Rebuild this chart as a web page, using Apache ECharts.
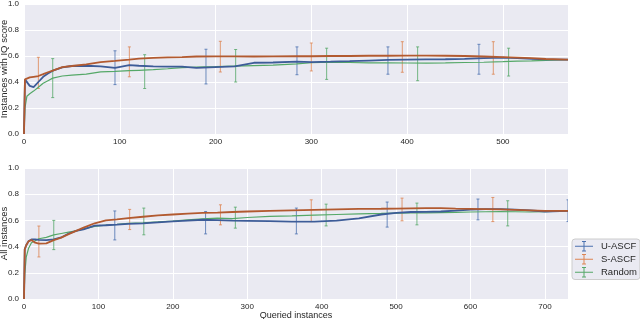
<!DOCTYPE html>
<html><head><meta charset="utf-8">
<script src="https://cdn.jsdelivr.net/npm/echarts@6/dist/echarts.min.js"></script>
<style>html,body{margin:0;padding:0;background:#fff}#c{width:640px;height:319px}</style>
</head><body><div id="c"></div>
<script>
// ---- Data ----
const seriesNames = ['U-ASCF', 'S-ASCF', 'Random'];
const xTop = [0,1,3,6,10,15,20,25,30,40,50,65,80,95,110,120,135,150,165,180,200,220,240,260,285,300,320,340,360,380,400,420,440,460,480,500,515,530,545,568];
const uTop = [0,0.42,0.41,0.37,0.36,0.40,0.44,0.465,0.487,0.513,0.523,0.525,0.52,0.508,0.53,0.525,0.52,0.518,0.518,0.508,0.515,0.52,0.548,0.55,0.556,0.553,0.556,0.56,0.565,0.57,0.572,0.574,0.575,0.578,0.583,0.588,0.584,0.578,0.574,0.572];
const sTop = [0,0.42,0.43,0.435,0.44,0.446,0.46,0.475,0.487,0.515,0.523,0.536,0.553,0.562,0.572,0.58,0.585,0.589,0.592,0.596,0.597,0.597,0.596,0.597,0.598,0.598,0.6,0.6,0.602,0.602,0.603,0.603,0.602,0.6,0.596,0.592,0.588,0.583,0.577,0.572];
const rTop = [0,0.2,0.29,0.31,0.33,0.36,0.39,0.41,0.43,0.446,0.453,0.46,0.478,0.482,0.487,0.49,0.495,0.502,0.51,0.515,0.518,0.522,0.526,0.53,0.54,0.548,0.553,0.55,0.547,0.547,0.546,0.545,0.547,0.55,0.552,0.556,0.56,0.563,0.567,0.571];
// error bars: [x, low, high]
const uTopErr = [[95,0.38,0.64],[190,0.385,0.652],[285,0.456,0.67],[380,0.46,0.67],[475,0.46,0.69]];
const sTopErr = [[15,0.35,0.59],[110,0.44,0.67],[205,0.477,0.713],[300,0.485,0.70],[395,0.475,0.71],[490,0.46,0.71]];
const rTopErr = [[30,0.28,0.58],[126,0.35,0.61],[221,0.40,0.65],[316,0.42,0.66],[411,0.41,0.67],[506,0.446,0.66]];

const xBot = [0,1,3,6,10,15,20,30,40,50,60,70,80,95,110,125,140,160,180,200,220,240,260,280,300,330,360,390,420,450,480,500,520,540,560,580,600,620,640,660,680,700,731];
const uBot = [0,0.38,0.41,0.44,0.455,0.455,0.452,0.449,0.455,0.47,0.50,0.52,0.531,0.56,0.563,0.567,0.573,0.578,0.585,0.592,0.599,0.605,0.602,0.599,0.597,0.594,0.59,0.59,0.598,0.615,0.645,0.657,0.664,0.665,0.668,0.675,0.683,0.686,0.686,0.683,0.676,0.668,0.672];
const sBot = [0,0.38,0.41,0.44,0.45,0.43,0.423,0.425,0.449,0.469,0.495,0.52,0.545,0.578,0.6,0.608,0.618,0.628,0.638,0.645,0.652,0.657,0.66,0.664,0.668,0.672,0.676,0.68,0.684,0.688,0.689,0.69,0.692,0.694,0.693,0.69,0.688,0.686,0.684,0.681,0.677,0.673,0.672];
const rBot = [0,0.19,0.32,0.385,0.43,0.445,0.46,0.47,0.49,0.50,0.51,0.52,0.535,0.555,0.564,0.57,0.577,0.582,0.588,0.595,0.604,0.612,0.617,0.613,0.622,0.63,0.634,0.64,0.645,0.65,0.653,0.656,0.657,0.658,0.66,0.662,0.664,0.666,0.668,0.666,0.664,0.667,0.672];
const uBotErr = [[122,0.451,0.672],[244,0.497,0.668],[366,0.497,0.694],[488,0.549,0.74],[610,0.604,0.763],[731,0.591,0.757]];
const sBotErr = [[20,0.321,0.557],[142,0.53,0.684],[264,0.566,0.719],[386,0.591,0.757],[508,0.597,0.77],[630,0.591,0.775]];
const rBotErr = [[40,0.377,0.60],[161,0.49,0.694],[284,0.541,0.701],[406,0.558,0.724],[528,0.566,0.732],[650,0.558,0.75]];

// ---- Styles ----
const lightCol = ['#4C72B0', '#DD8452', '#55A868'];
const lineCol = ['#3D5C98', '#B25A30', '#55A868'];
const lineW = [1.8, 1.8, 1.2];
const font = 'Liberation Sans, Arial, sans-serif';

function pairs(xs, ys) { return xs.map((x, i) => [x, ys[i]]); }
function lineSeries(idx, gi, xs, ys) {
  return {
    type: 'line', name: seriesNames[idx], xAxisIndex: gi, yAxisIndex: gi,
    data: pairs(xs, ys), showSymbol: false, symbol: 'none', animation: false,
    color: lightCol[idx],
    lineStyle: { color: lineCol[idx], width: lineW[idx] }, z: 3 + (idx === 2 ? 0 : 1)
  };
}
function errSeries(idx, gi, data) {
  return {
    type: 'custom', name: seriesNames[idx], xAxisIndex: gi, yAxisIndex: gi,
    data: data, animation: false, clip: true, z: 2, color: lightCol[idx],
    renderItem: function (params, api) {
      const x = api.value(0), lo = api.value(1), hi = api.value(2);
      const p1 = api.coord([x, lo]), p2 = api.coord([x, hi]);
      const st = { stroke: lightCol[idx], lineWidth: 1, opacity: 0.8 };
      const c = 1.5;
      return { type: 'group', children: [
        { type: 'line', shape: { x1: p1[0], y1: p1[1], x2: p2[0], y2: p2[1] }, style: st },
        { type: 'line', shape: { x1: p1[0] - c, y1: p1[1], x2: p1[0] + c, y2: p1[1] }, style: st },
        { type: 'line', shape: { x1: p2[0] - c, y1: p2[1], x2: p2[0] + c, y2: p2[1] }, style: st }
      ]};
    },
    encode: { x: 0, y: [1, 2] }
  };
}
function xAx(gi, max, name) {
  return {
    type: 'value', gridIndex: gi, min: 0, max: max, interval: 100,
    axisLine: { show: false }, axisTick: { show: false },
    splitLine: { show: true, lineStyle: { color: '#ffffff', width: 1 } },
    axisLabel: { fontSize: 8, color: '#262626', fontFamily: font, margin: 4, showMaxLabel: false,
      formatter: v => (v % 100 === 0 ? String(v) : '') },
    name: name, nameLocation: 'middle', nameGap: 12, nameMoveOverlap: false,
    nameTextStyle: { fontSize: 9, color: '#262626', fontFamily: font }
  };
}
function yAx(gi, name) {
  return {
    type: 'value', gridIndex: gi, min: 0, max: 1, interval: 0.2,
    axisLine: { show: false }, axisTick: { show: false },
    splitLine: { show: true, lineStyle: { color: '#ffffff', width: 1 } },
    axisLabel: { fontSize: 8, color: '#262626', fontFamily: font, margin: 5,
      formatter: v => v.toFixed(1) },
    name: name, nameLocation: 'middle', nameGap: 15, nameMoveOverlap: false,
    nameTextStyle: { fontSize: 9.5, color: '#262626', fontFamily: font }
  };
}

const chart = echarts.init(document.getElementById('c'), null, { renderer: 'canvas' });
chart.setOption({
  animation: false,
  backgroundColor: '#ffffff',
  grid: [
    { left: 24, top: 4, width: 544, height: 130, show: true, backgroundColor: '#EAEAF2', borderWidth: 0, outerBoundsMode: 'none', containLabel: false },
    { left: 24, top: 168, width: 544, height: 131, show: true, backgroundColor: '#EAEAF2', borderWidth: 0, outerBoundsMode: 'none', containLabel: false }
  ],
  xAxis: [xAx(0, 568, ''), xAx(1, 731, 'Queried instances')],
  yAxis: [yAx(0, 'Instances with IQ score'), yAx(1, 'All instances')],
  legend: {
    data: seriesNames, orient: 'vertical', left: 572, top: 239,
    backgroundColor: '#EAEAF2', borderColor: '#CCCCCC', borderWidth: 1, borderRadius: 3,
    padding: [2, 3, 2, 3], itemGap: 2.5, itemWidth: 18, itemHeight: 10.5,
    icon: 'path://M0,4.75h18v1h-18z M8.5,0h1v10.5h-1z M7,0h4v0.9h-4z M7,9.6h4v0.9h-4z',
    textStyle: { fontSize: 9.5, color: '#262626', fontFamily: font, padding: [0, 0, 0, 3] }
  },
  series: [
    lineSeries(0, 0, xTop, uTop), lineSeries(1, 0, xTop, sTop), lineSeries(2, 0, xTop, rTop),
    lineSeries(0, 1, xBot, uBot), lineSeries(1, 1, xBot, sBot), lineSeries(2, 1, xBot, rBot),
    errSeries(0, 0, uTopErr), errSeries(1, 0, sTopErr), errSeries(2, 0, rTopErr),
    errSeries(0, 1, uBotErr), errSeries(1, 1, sBotErr), errSeries(2, 1, rBotErr)
  ]
});
</script></body></html>
